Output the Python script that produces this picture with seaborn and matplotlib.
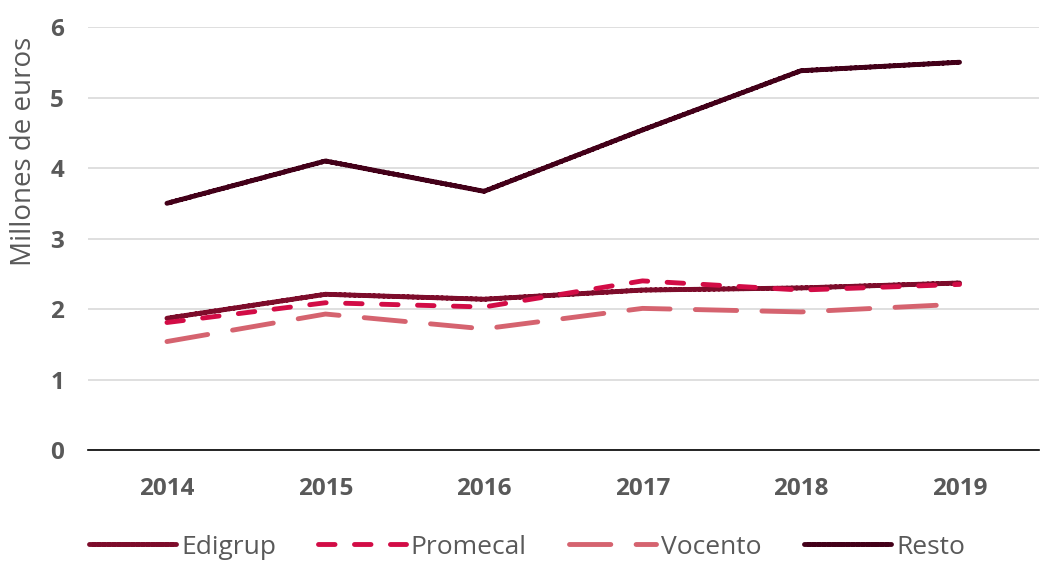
import pandas as pd
import seaborn as sns
import matplotlib.pyplot as plt
import matplotlib

matplotlib.use('Agg')

years = ['2014', '2015', '2016', '2017', '2018', '2019']
edigrup = [1.87, 2.21, 2.14, 2.27, 2.30, 2.37]
promecal = [1.81, 2.09, 2.03, 2.40, 2.27, 2.35]
vocento = [1.54, 1.93, 1.72, 2.01, 1.96, 2.07]
resto = [3.50, 4.10, 3.67, 4.54, 5.38, 5.50]

series = ['Edigrup', 'Promecal', 'Vocento', 'Resto']
colores = ['#7d0c2b', '#d20c46', '#d5636f', '#430019']
dashes = [(1, 0), (3.4, 4.0), (8.5, 5.2), (1, 0)]

df = pd.DataFrame({
    'Año': years * 4,
    'Valor': edigrup + promecal + vocento + resto,
    'Serie': sum([[s] * len(years) for s in series], []),
})

sns.set_theme(style='white')
plt.rcParams['font.family'] = ['Open Sans', 'DejaVu Sans']

fig, ax = plt.subplots(figsize=(10.44, 5.62), dpi=100)
sns.lineplot(data=df, x='Año', y='Valor', hue='Serie', style='Serie',
             palette=dict(zip(series, colores)), dashes=dict(zip(series, dashes)),
             linewidth=3.5, ax=ax, sort=False)
for line in ax.lines:
    line.set_solid_capstyle('round')
    line.set_dash_capstyle('round')

gris = '#595959'
ax.set_ylim(0, 6)
ax.set_xlim(-0.5, 5.5)
ax.set_yticks(range(0, 7))
ax.yaxis.grid(True, color='#d9d9d9', linewidth=1.2)
ax.set_axisbelow(True)
for s in ['top', 'right', 'left']:
    ax.spines[s].set_visible(False)
ax.spines['bottom'].set_color('black')
ax.spines['bottom'].set_linewidth(1.2)
ax.tick_params(axis='both', length=0, labelsize=17.5, labelcolor=gris)
ax.tick_params(axis='y', pad=17)
ax.tick_params(axis='x', pad=19)
for lab in ax.get_xticklabels() + ax.get_yticklabels():
    lab.set_fontweight('bold')
ax.set_xlabel('')
ax.set_ylabel('Millones de euros', fontsize=20, color=gris)
ax.yaxis.set_label_coords(-0.052, 0.705)

ax.legend(loc='center', bbox_to_anchor=(0.462, -0.229), ncol=4, frameon=False,
          fontsize=19, labelcolor=gris, handlelength=3.3, handletextpad=0.2,
          columnspacing=1.6)

fig.subplots_adjust(left=0.084, right=0.995, top=0.952, bottom=0.199)
fig.savefig('out.png', dpi=100)
